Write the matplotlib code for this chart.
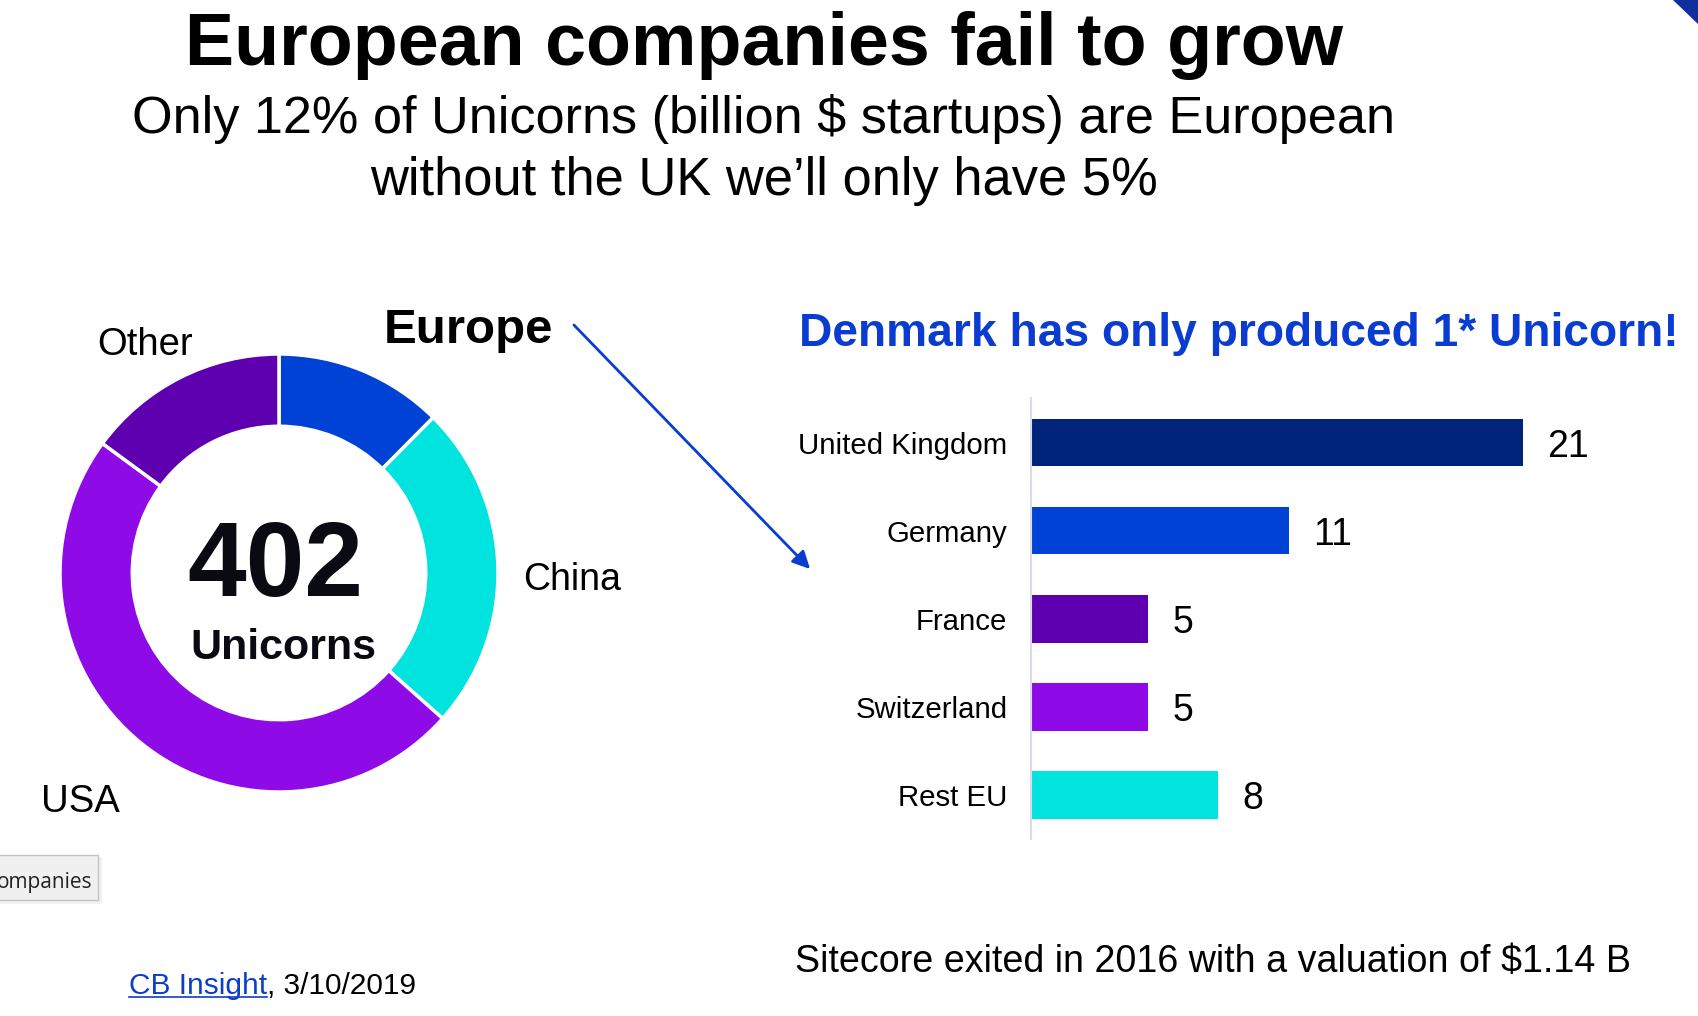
import matplotlib
matplotlib.use("Agg")
import matplotlib.pyplot as plt
from matplotlib.patches import Rectangle, Polygon, FancyArrowPatch
from matplotlib.lines import Line2D

plt.rcParams['font.family'] = ['Liberation Sans', 'DejaVu Sans']

# ---- data ----
region_labels = ["Europe", "China", "USA", "Other"]
region_values = [50, 97, 195, 60]
region_colors = ["#0041d6", "#00e3df", "#8e0ae6", "#5e00b0"]

countries = ["United Kingdom", "Germany", "France", "Switzerland", "Rest EU"]
country_values = [21, 11, 5, 5, 8]
country_colors = ["#00247a", "#0041d6", "#5e00b0", "#8e0ae6", "#00e3df"]

W, H = 1698, 1016
fig = plt.figure(figsize=(W / 100, H / 100), dpi=100)
fig.patch.set_facecolor("white")

def fx(px):
    return px / W

def fy(py):
    return 1 - py / H

# ---- titles ----
fig.text(fx(764), fy(65), "European companies fail to grow", ha="center", va="baseline",
         fontsize=53, fontweight="bold", color="#000000")
fig.text(fx(764), fy(133), "Only 12% of Unicorns (billion $ startups) are European", ha="center",
         va="baseline", fontsize=37.6, color="#000000")
fig.text(fx(764), fy(195), "without the UK we\u2019ll only have 5%", ha="center",
         va="baseline", fontsize=37.8, color="#000000")

# ---- donut ----
cx, cy, r = 279, 573, 219
axd = fig.add_axes([fx(cx - r), fy(cy + r), 2 * r / W, 2 * r / H])
axd.pie(region_values, colors=region_colors, startangle=90, counterclock=False,
        radius=1.0, wedgeprops=dict(width=0.33, edgecolor="white", linewidth=2.5))
axd.set_xlim(-1, 1)
axd.set_ylim(-1, 1)
axd.set_aspect("equal")
axd.axis("off")

fig.text(fx(275), fy(596), "402", ha="center", va="baseline", fontsize=76,
         fontweight="bold", color="#0a0a12")
fig.text(fx(283), fy(659), "Unicorns", ha="center", va="baseline", fontsize=31,
         fontweight="bold", color="#0a0a12")

fig.text(fx(384), fy(343), region_labels[0], ha="left", va="baseline", fontsize=35.5,
         fontweight="bold", color="#000000")
fig.text(fx(523), fy(590), region_labels[1], ha="left", va="baseline", fontsize=27, color="#000000")
fig.text(fx(41), fy(812), region_labels[2], ha="left", va="baseline", fontsize=27.5, color="#000000")
fig.text(fx(97), fy(355), region_labels[3], ha="left", va="baseline", fontsize=27.5, color="#000000")

# arrow from Europe label to bar chart
arrow = FancyArrowPatch((fx(572), fy(323)), (fx(812), fy(571)), transform=fig.transFigure,
                        arrowstyle="-|>,head_length=7,head_width=3.5", color="#0a3cd2",
                        linewidth=2.0, mutation_scale=1.5)
fig.patches.append(arrow)

# ---- bar chart ----
fig.text(fx(799), fy(346), "Denmark has only produced 1* Unicorn!", ha="left", va="baseline",
         fontsize=33.2, fontweight="bold", color="#0a3cd2")

axb = fig.add_axes([fx(1031), fy(839), (1689 - 1031) / W, (839 - 398.5) / H])
ypos = list(range(len(countries)))
axb.barh(ypos, country_values, height=0.54, color=country_colors)
axb.set_ylim(len(countries) - 0.5, -0.5)
axb.set_xlim(0, 28.1)
axb.set_yticks(ypos)
axb.set_yticklabels(countries, fontsize=21.2)
axb.tick_params(axis="y", length=0, pad=17)
axb.set_xticks([])
for s in ["top", "right", "bottom"]:
    axb.spines[s].set_visible(False)
axb.spines["left"].set_color("#dcdce8")
axb.spines["left"].set_linewidth(1.5)
for y, v in zip(ypos, country_values):
    axb.annotate(str(v), (v, y), xytext=(17.5, 0), textcoords="offset points",
                 ha="left", va="center_baseline", fontsize=27, color="#000000")

# ---- footer ----
fig.text(fx(795), fy(972), "Sitecore exited in 2016 with a valuation of $1.14 B", ha="left",
         va="baseline", fontsize=27.1, color="#000000")
cb = fig.text(fx(129), fy(994), "CB Insight", ha="left", va="baseline", fontsize=21.5,
              color="#0b3fc8")
fig.canvas.draw()
bb = cb.get_window_extent(fig.canvas.get_renderer())
inv = fig.transFigure.inverted()
(x0, y0), (x1, y1) = inv.transform([(bb.x0, bb.y0), (bb.x1, bb.y1)])
fig.text(x1, fy(994), ", 3/10/2019", ha="left", va="baseline", fontsize=21.5, color="#000000")
fig.lines.append(Line2D([x0, x1], [fy(997), fy(997)], transform=fig.transFigure,
                        color="#0b3fc8", linewidth=1.2))

# ---- tooltip fragment ----
fig.patches.append(Rectangle((fx(-10), fy(904)), fx(112), (904 - 857) / H, transform=fig.transFigure,
                             facecolor="#d8d8d8", edgecolor="none", alpha=0.35, zorder=1))
fig.patches.append(Rectangle((fx(-10), fy(900)), fx(108), (900 - 855) / H, transform=fig.transFigure,
                             facecolor="#f0f0f0", edgecolor="#c4c4c4", linewidth=1, zorder=2))
fig.text(fx(-3), fy(888), "ompanies", ha="left", va="baseline", fontsize=15,
         family=["Open Sans", "DejaVu Sans"], color="#222222", zorder=3)

# ---- corner decoration ----
fig.patches.append(Polygon([(fx(1673), fy(0)), (fx(1698), fy(0)), (fx(1698), fy(24))],
                           closed=True, transform=fig.transFigure, facecolor="#102e9c",
                           edgecolor="none"))

fig.savefig("out.png", dpi=100, facecolor="white")
